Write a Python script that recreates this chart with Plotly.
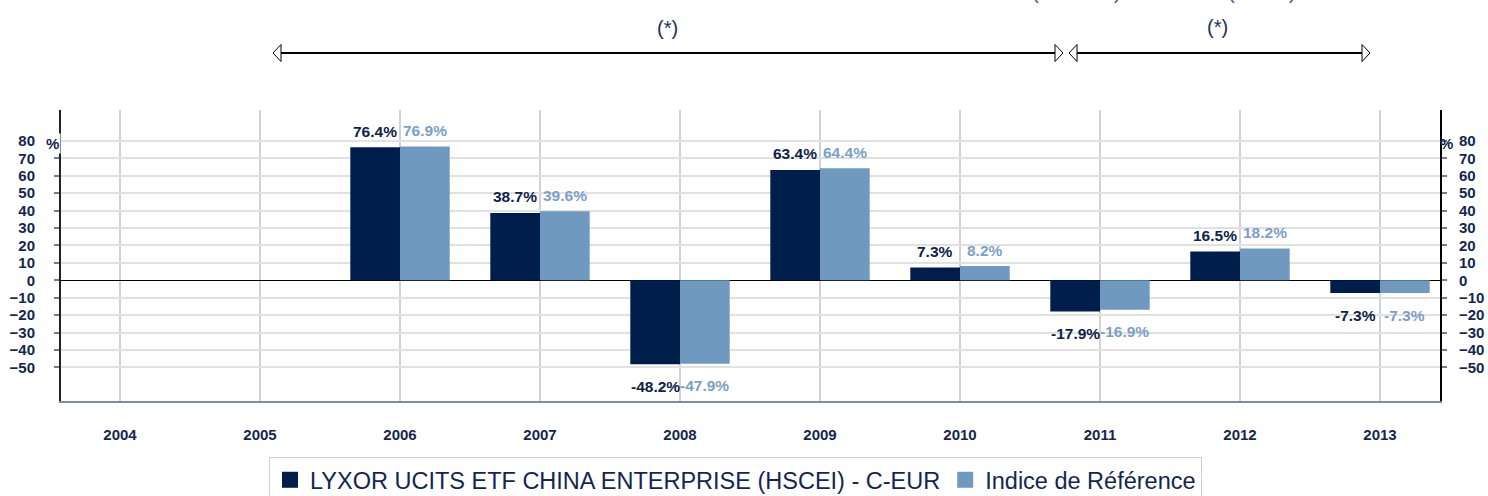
import plotly.graph_objects as go

# ---- data ----
years = ["2004", "2005", "2006", "2007", "2008", "2009", "2010", "2011", "2012", "2013"]
fund_name = "LYXOR UCITS ETF CHINA ENTERPRISE (HSCEI) - C-EUR"
index_name = "Indice de Référence"
fund_values = [None, None, 76.4, 38.7, -48.2, 63.4, 7.3, -17.9, 16.5, -7.3]
index_values = [None, None, 76.9, 39.6, -47.9, 64.4, 8.2, -16.9, 18.2, -7.3]
y_ticks = [-50, -40, -30, -20, -10, 0, 10, 20, 30, 40, 50, 60, 70, 80]

# ---- styles ----
DARK = "#001e4b"
LIGHT = "#7099bf"
DARK_TXT = "#0f2249"
LIGHT_TXT = "#7b9fc7"
AXIS_TXT = "#14264f"
FONT = "Liberation Sans, Arial, sans-serif"
BARGAP = 0.29

W, H = 1488, 496
ML, MR, MT, MB = 61, 48, 110, 95
PW, PH = W - ML - MR, H - MT - MB


def px_to_paper_x(px):
    return (px - ML) / PW


def px_to_paper_y(py):
    return (H - MB - py) / PH


xs = list(range(len(years)))

fig = go.Figure()
fig.add_trace(go.Bar(x=xs, y=fund_values, name=fund_name, marker=dict(color=DARK, line=dict(width=0)),
                     showlegend=False))
fig.add_trace(go.Bar(x=xs, y=index_values, name=index_name, marker=dict(color=LIGHT, line=dict(width=0)),
                     showlegend=False))
# legend proxies (bigger squares)
fig.add_trace(go.Scatter(x=[None], y=[None], mode="markers", name=fund_name,
                         marker=dict(symbol="square", size=22, color=DARK)))
fig.add_trace(go.Scatter(x=[None], y=[None], mode="markers", name=index_name,
                         marker=dict(symbol="square", size=22, color=LIGHT)))
# invisible trace for right axis
fig.add_trace(go.Scatter(x=[None], y=[None], yaxis="y2", showlegend=False, hoverinfo="skip"))

annotations = []
off = (1 - BARGAP) / 4
for vals, dx, col in ((fund_values, -off, DARK_TXT), (index_values, off, LIGHT_TXT)):
    for i, v in enumerate(vals):
        if v is None:
            continue
        annotations.append(dict(
            x=i + dx, y=v, xref="x", yref="y", text=f"{v:.1f}%", showarrow=False,
            yshift=16 if v >= 0 else -22, yanchor="middle", xanchor="center",
            font=dict(family=FONT, size=15.5, color=col, weight="bold")))

# % signs next to the axes
annotations.append(dict(x=px_to_paper_x(52), y=px_to_paper_y(143), xref="paper", yref="paper", text="%",
                        showarrow=False, font=dict(family=FONT, size=15, color=AXIS_TXT, weight="bold"),
                        xanchor="center", yanchor="middle", bgcolor="white"))
annotations.append(dict(x=px_to_paper_x(1447), y=px_to_paper_y(143), xref="paper", yref="paper", text="%",
                        showarrow=False, font=dict(family=FONT, size=15, color=AXIS_TXT, weight="bold"),
                        xanchor="center", yanchor="middle"))
# (*) notes
for cx, cy in ((667, 28), (1217, 27)):
    annotations.append(dict(x=px_to_paper_x(cx), y=px_to_paper_y(cy), xref="paper", yref="paper", text="(*)",
                            showarrow=False, font=dict(family=FONT, size=20, color="#1c3060"),
                            xanchor="center", yanchor="middle"))
# clipped text at top edge
for cx, t in ((1035, "("), (1117, ")"), (1231, "("), (1292, ")")):
    annotations.append(dict(x=px_to_paper_x(cx), y=px_to_paper_y(-8), xref="paper", yref="paper", text=t,
                            showarrow=False, font=dict(family=FONT, size=20, color="#3560ad"),
                            xanchor="center", yanchor="middle"))

shapes = []
ay = px_to_paper_y(53)
for x0, x1 in ((273, 1063), (1069, 1370)):
    shapes.append(dict(type="line", xref="paper", yref="paper", x0=px_to_paper_x(x0 + 6),
                       x1=px_to_paper_x(x1 - 6), y0=ay, y1=ay, line=dict(color="black", width=2)))
    shapes.append(dict(type="path", xref="paper", yref="paper", xsizemode="pixel", ysizemode="pixel",
                       xanchor=px_to_paper_x(x0), yanchor=ay, path="M 0 0 L 8 8.5 L 8 -8.5 Z",
                       fillcolor="white", line=dict(color="black", width=1)))
    shapes.append(dict(type="path", xref="paper", yref="paper", xsizemode="pixel", ysizemode="pixel",
                       xanchor=px_to_paper_x(x1), yanchor=ay, path="M 0 0 L -8 8.5 L -8 -8.5 Z",
                       fillcolor="white", line=dict(color="black", width=1)))

yrange = [-69.3, 97.8]
fig.update_layout(
    width=W, height=H,
    margin=dict(l=ML, r=MR, t=MT, b=MB, autoexpand=False),
    paper_bgcolor="white", plot_bgcolor="white",
    barmode="group", bargap=BARGAP, bargroupgap=0,
    font=dict(family=FONT, color=AXIS_TXT),
    xaxis=dict(range=[-0.4214, 9.4286], tickvals=xs, ticktext=years, showgrid=True, gridcolor="#d2d2d2",
               gridwidth=1.5, zeroline=False, showline=True, linecolor="#7e8cab", linewidth=2,
               ticks="", ticklabelstandoff=19,
               tickfont=dict(family=FONT, size=15, color=AXIS_TXT, weight="bold")),
    yaxis=dict(range=yrange, tickvals=y_ticks, showgrid=True, gridcolor="#e1e1e1", gridwidth=2,
               zeroline=True, zerolinecolor="black", zerolinewidth=1, showline=True, linecolor="#222222",
               linewidth=2, ticks="outside", ticklen=5, tickwidth=2, tickcolor="#6d7b9c",
               ticklabelstandoff=16, tickfont=dict(family=FONT, size=15, color=AXIS_TXT, weight="bold")),
    yaxis2=dict(range=yrange, tickvals=y_ticks, overlaying="y", side="right", showgrid=False, zeroline=False,
                showline=True, linecolor="black", linewidth=2, ticks="outside", ticklen=5, tickwidth=2,
                tickcolor="#6d7b9c", ticklabelstandoff=9,
                tickfont=dict(family=FONT, size=15, color=AXIS_TXT, weight="bold")),
    legend=dict(orientation="h", x=px_to_paper_x(269), y=px_to_paper_y(457), xanchor="left", yanchor="top",
                bordercolor="#d0d0d0", borderwidth=1, bgcolor="white",
                font=dict(family=FONT, size=23.5, color=AXIS_TXT), itemsizing="trace"),
    annotations=annotations, shapes=shapes,
)

fig.write_html("out.html", config={"displayModeBar": False},
               post_script="document.body.style.margin='0';document.body.style.overflow='hidden';")
